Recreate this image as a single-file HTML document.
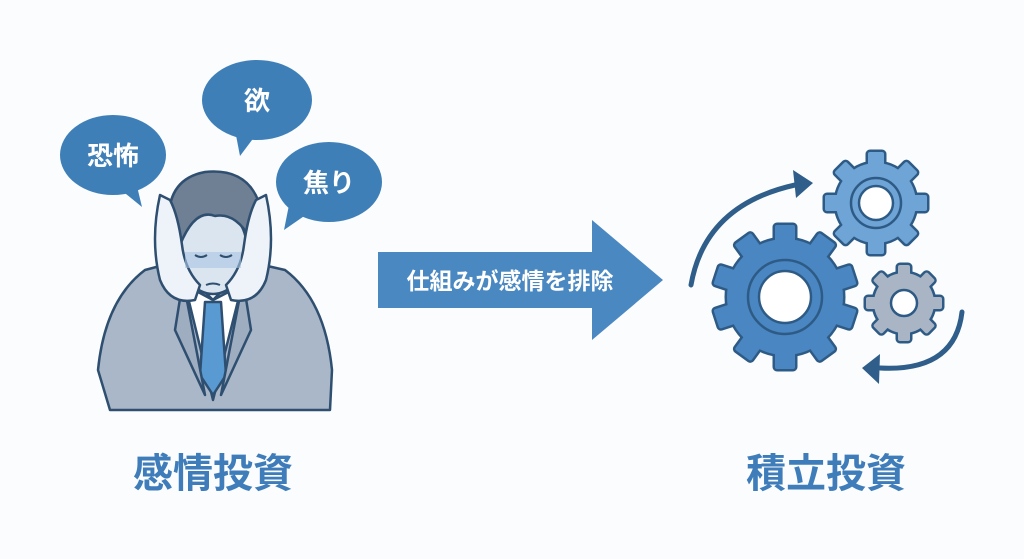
<!DOCTYPE html>
<html><head><meta charset="utf-8"><style>
html,body{margin:0;padding:0;background:#fbfcfd;}
svg{display:block}
text{font-family:"Liberation Sans","Noto Sans CJK JP",sans-serif;}
</style></head><body>
<svg width="1024" height="559" viewBox="0 0 1024 559">
<defs>
<g id="gb">
<circle r="58"/>
<rect x="-10" y="-72" width="20" height="22" rx="2"/>
<rect x="-10" y="-72" width="20" height="22" rx="2" transform="rotate(36)"/>
<rect x="-10" y="-72" width="20" height="22" rx="2" transform="rotate(72)"/>
<rect x="-10" y="-72" width="20" height="22" rx="2" transform="rotate(108)"/>
<rect x="-10" y="-72" width="20" height="22" rx="2" transform="rotate(144)"/>
<rect x="-10" y="-72" width="20" height="22" rx="2" transform="rotate(180)"/>
<rect x="-10" y="-72" width="20" height="22" rx="2" transform="rotate(216)"/>
<rect x="-10" y="-72" width="20" height="22" rx="2" transform="rotate(252)"/>
<rect x="-10" y="-72" width="20" height="22" rx="2" transform="rotate(288)"/>
<rect x="-10" y="-72" width="20" height="22" rx="2" transform="rotate(324)"/>
</g>
<g id="gm">
<circle r="40"/>
<rect x="-8" y="-51" width="16" height="16" rx="2"/>
<rect x="-8" y="-51" width="16" height="16" rx="2" transform="rotate(45)"/>
<rect x="-8" y="-51" width="16" height="16" rx="2" transform="rotate(90)"/>
<rect x="-8" y="-51" width="16" height="16" rx="2" transform="rotate(135)"/>
<rect x="-8" y="-51" width="16" height="16" rx="2" transform="rotate(180)"/>
<rect x="-8" y="-51" width="16" height="16" rx="2" transform="rotate(225)"/>
<rect x="-8" y="-51" width="16" height="16" rx="2" transform="rotate(270)"/>
<rect x="-8" y="-51" width="16" height="16" rx="2" transform="rotate(315)"/>
</g>
<g id="gs">
<circle r="30"/>
<rect x="-6" y="-38" width="12" height="12" rx="2"/>
<rect x="-6" y="-38" width="12" height="12" rx="2" transform="rotate(45)"/>
<rect x="-6" y="-38" width="12" height="12" rx="2" transform="rotate(90)"/>
<rect x="-6" y="-38" width="12" height="12" rx="2" transform="rotate(135)"/>
<rect x="-6" y="-38" width="12" height="12" rx="2" transform="rotate(180)"/>
<rect x="-6" y="-38" width="12" height="12" rx="2" transform="rotate(225)"/>
<rect x="-6" y="-38" width="12" height="12" rx="2" transform="rotate(270)"/>
<rect x="-6" y="-38" width="12" height="12" rx="2" transform="rotate(315)"/>
</g>
</defs>
<rect width="1024" height="559" fill="#fbfcfd"/>
<!-- bubbles -->
<g fill="#3f7fb8">
<ellipse cx="113" cy="155" rx="53" ry="40"/><polygon points="115,185 142,207 135,178"/>
<ellipse cx="257" cy="100" rx="55" ry="40"/><polygon points="235,130 240,156 258,132"/>
<ellipse cx="329" cy="182" rx="53" ry="40"/><polygon points="290,200 284,230 310,212"/>
</g>
<g fill="#fff" font-size="26" font-weight="bold" text-anchor="middle">
<text x="113" y="165">恐怖</text><text x="257" y="110">欲</text><text x="329" y="192">焦り</text>
</g>
<!-- man -->
<g stroke="#2f4f70" stroke-width="2.5" stroke-linejoin="round">
<path d="M110,410 L98,370 Q105,300 145,270 L175,262 L213,300 L250,262 L285,270 Q325,300 332,370 L330,410 Z" fill="#aab7c9"/>
<path d="M185,285 L213,400 L242,285 L213,300 Z" fill="#fff"/>
<path d="M205,302 L221,302 L226,375 L213,395 L200,375 Z" fill="#5a9ad3"/>
<path d="M183,280 L205,395 L175,330 Z M243,280 L221,395 L251,330 Z" fill="#9fadc0"/>
<ellipse cx="213" cy="250" rx="34" ry="44" fill="#dbe5f0"/>
<path d="M170,235 Q162,180 205,172 Q245,168 258,200 Q264,222 250,238 Q235,212 215,216 Q195,208 180,245 Z" fill="#6f7f94"/>
<path d="M160,195 Q150,240 160,280 Q170,305 195,300 L200,285 Q185,270 182,245 Q178,215 170,200 Z" fill="#eef3f9"/>
<path d="M266,195 Q276,240 266,280 Q256,305 231,300 L226,285 Q241,270 244,245 Q248,215 256,200 Z" fill="#eef3f9"/>
</g>
<rect x="185" y="252" width="56" height="16" fill="#a9c4e2" opacity="0.6"/>
<g stroke="#2f4f70" stroke-width="2" fill="none"><path d="M195,255 q6,4 12,0 M220,255 q6,4 12,0 M206,285 q7,-3 14,0"/></g>
<!-- main arrow -->
<path d="M378,252 L592,252 L592,220 L663,280 L592,340 L592,308 L378,308 Z" fill="#4a88c2"/>
<text x="510" y="289" fill="#fff" font-size="23" font-weight="bold" text-anchor="middle">仕組みが感情を排除</text>
<!-- gears -->
<use href="#gb" x="785" y="297" fill="#2e5b85" stroke="#2e5b85" stroke-width="5" stroke-linejoin="round"/>
<use href="#gb" x="785" y="297" fill="#4a86c2"/>
<use href="#gm" x="876" y="203" fill="#2e5b85" stroke="#2e5b85" stroke-width="5" stroke-linejoin="round"/>
<use href="#gm" x="876" y="203" fill="#6fa4d6"/>
<use href="#gs" x="904" y="303" fill="#2e5b85" stroke="#2e5b85" stroke-width="5" stroke-linejoin="round"/>
<use href="#gs" x="904" y="303" fill="#a9b4c4"/>
<g stroke="#2e5b85" stroke-width="2.5">
<circle cx="785" cy="297" r="37" fill="none"/>
<circle cx="785" cy="297" r="26" fill="#fff"/>
<circle cx="876" cy="203" r="25" fill="none"/>
<circle cx="876" cy="203" r="17" fill="#fff"/>
<circle cx="904" cy="303" r="13" fill="#fff"/>
</g>
<g stroke="#2f5e8a" stroke-width="5" fill="none" stroke-linecap="round">
<path d="M691,285 Q705,205 795,185"/>
<path d="M962,312 Q955,372 880,368"/>
</g>
<polygon points="813,183 793,170 796,198" fill="#2f5e8a"/>
<polygon points="862,368 880,354 879,384" fill="#2f5e8a"/>
<!-- labels -->
<g fill="#3f7dba" font-size="40" font-weight="bold" text-anchor="middle">
<text x="213" y="487">感情投資</text><text x="826" y="487">積立投資</text>
</g>
</svg>
</body></html>
